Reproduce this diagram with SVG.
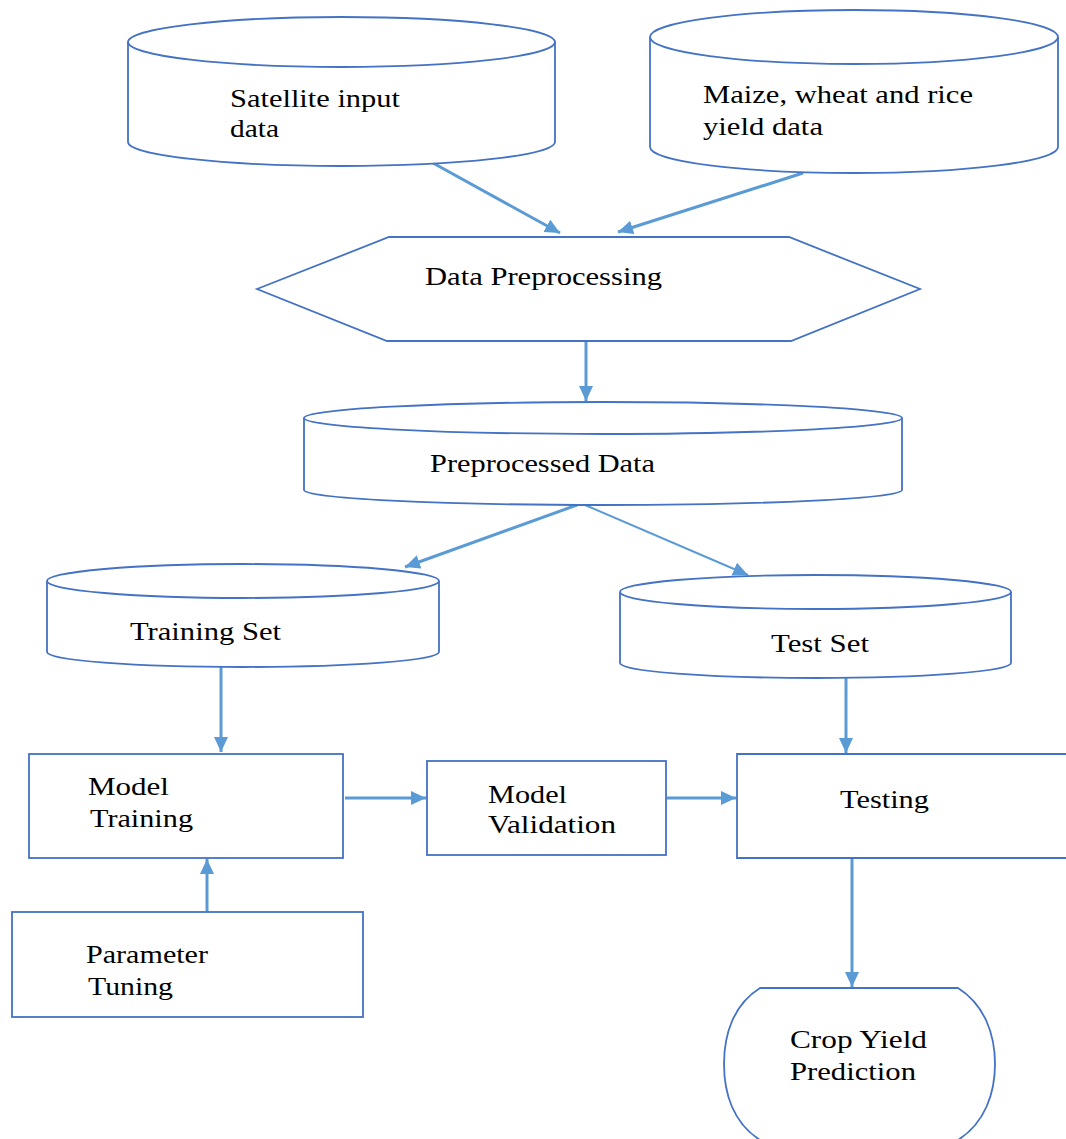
<svg xmlns="http://www.w3.org/2000/svg" width="1066" height="1139" viewBox="0 0 1066 1139">
<style>
.shape{fill:#fff;stroke:#4472C4;stroke-width:1.8}
.conn{fill:none;stroke:#5B9BD5;stroke-width:3}
text{font-family:"Liberation Serif","Times New Roman",serif;font-size:25px;fill:#000}
</style>
<defs>
<marker id="arr" markerUnits="userSpaceOnUse" markerWidth="16" markerHeight="14" refX="15" refY="7" orient="auto">
<path d="M0,0 L15,7 L0,14 Z" fill="#5B9BD5"/>
</marker>
</defs>
<rect width="1066" height="1139" fill="#fff"/>
<g id="connectors">
<line class="conn" x1="433" y1="163" x2="560" y2="233" marker-end="url(#arr)"/>
<line class="conn" x1="803" y1="173" x2="618" y2="232" marker-end="url(#arr)"/>
<line class="conn" x1="586" y1="341" x2="586" y2="401" marker-end="url(#arr)"/>
<line class="conn" x1="577" y1="505" x2="405" y2="567" marker-end="url(#arr)"/>
<line class="conn" x1="585" y1="505" x2="748" y2="575" marker-end="url(#arr)" style="stroke-width:2"/>
<line class="conn" x1="221" y1="667" x2="221" y2="752" marker-end="url(#arr)"/>
<line class="conn" x1="846" y1="678" x2="846" y2="753" marker-end="url(#arr)"/>
<line class="conn" x1="345" y1="798" x2="426" y2="798" marker-end="url(#arr)"/>
<line class="conn" x1="667" y1="798" x2="736" y2="798" marker-end="url(#arr)"/>
<line class="conn" x1="207" y1="912" x2="207" y2="859" marker-end="url(#arr)"/>
<line class="conn" x1="852" y1="858" x2="852" y2="987" marker-end="url(#arr)"/>
</g>
<g id="satellite">
<path class="shape" d="M128,42 V142 A213.5,24 0 0 0 555,142 V42"/>
<ellipse class="shape" cx="341.5" cy="42" rx="213.5" ry="25"/>
<text x="230" y="107" textLength="170" lengthAdjust="spacingAndGlyphs">Satellite input</text>
<text x="230" y="137" textLength="49" lengthAdjust="spacingAndGlyphs">data</text>
</g>
<g id="yield">
<path class="shape" d="M650,37 V147 A204,26 0 0 0 1058,147 V37"/>
<ellipse class="shape" cx="854" cy="37" rx="204" ry="27"/>
<text x="703" y="103" textLength="270" lengthAdjust="spacingAndGlyphs">Maize, wheat and rice</text>
<text x="703" y="135" textLength="120" lengthAdjust="spacingAndGlyphs">yield data</text>
</g>
<g id="preprocessing">
<polygon class="shape" points="257,289 389,237 789,237 920,289 791,341 387,341"/>
<text x="425" y="285" textLength="237" lengthAdjust="spacingAndGlyphs">Data Preprocessing</text>
</g>
<g id="preprocessed">
<path class="shape" d="M304,418 V490 A299,15 0 0 0 902,490 V418"/>
<ellipse class="shape" cx="603" cy="418" rx="299" ry="16"/>
<text x="430" y="472" textLength="225" lengthAdjust="spacingAndGlyphs">Preprocessed Data</text>
</g>
<g id="training-set">
<path class="shape" d="M47,581 V652 A196,15 0 0 0 439,652 V581"/>
<ellipse class="shape" cx="243" cy="581" rx="196" ry="17"/>
<text x="130" y="640" textLength="151" lengthAdjust="spacingAndGlyphs">Training Set</text>
</g>
<g id="test-set">
<path class="shape" d="M620,592 V663 A195.5,15 0 0 0 1011,663 V592"/>
<ellipse class="shape" cx="815.5" cy="592" rx="195.5" ry="17"/>
<text x="771" y="652" textLength="98" lengthAdjust="spacingAndGlyphs">Test Set</text>
</g>
<g id="model-training">
<rect class="shape" x="29" y="754" width="314" height="104"/>
<text x="88" y="795" textLength="81" lengthAdjust="spacingAndGlyphs">Model</text>
<text x="90" y="827" textLength="103" lengthAdjust="spacingAndGlyphs">Training</text>
</g>
<g id="model-validation">
<rect class="shape" x="427" y="761" width="239" height="94"/>
<text x="488" y="803" textLength="79" lengthAdjust="spacingAndGlyphs">Model</text>
<text x="488" y="833" textLength="128" lengthAdjust="spacingAndGlyphs">Validation</text>
</g>
<g id="testing">
<path class="shape" d="M1068,754 H737 V858 H1068"/>
<text x="840" y="808" textLength="89" lengthAdjust="spacingAndGlyphs">Testing</text>
</g>
<g id="parameter-tuning">
<rect class="shape" x="12" y="912" width="351" height="105"/>
<text x="86" y="963" textLength="122" lengthAdjust="spacingAndGlyphs">Parameter</text>
<text x="88" y="995" textLength="85" lengthAdjust="spacingAndGlyphs">Tuning</text>
</g>
<g id="crop-yield-prediction">
<path class="shape" d="M760,988 H958 C985,1005 995,1035 995,1064 C995,1093 985,1123 958,1140 H760 C733,1123 724,1093 724,1064 C724,1035 733,1005 760,988 Z"/>
<text x="790" y="1048" textLength="137" lengthAdjust="spacingAndGlyphs">Crop Yield</text>
<text x="790" y="1080" textLength="126" lengthAdjust="spacingAndGlyphs">Prediction</text>
</g>
</svg>
